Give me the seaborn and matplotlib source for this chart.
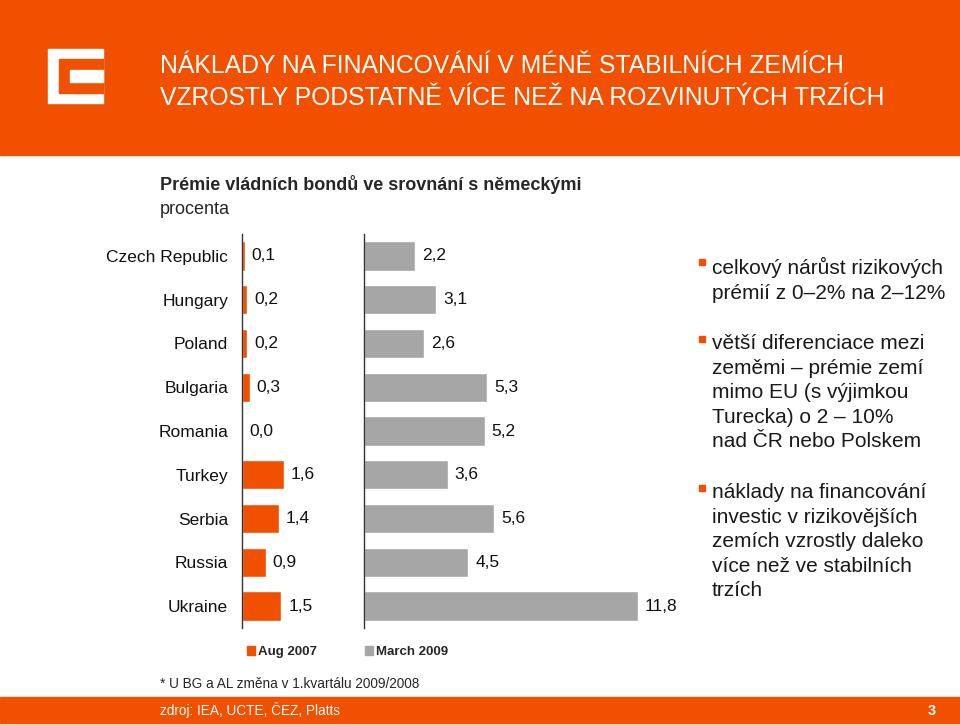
import numpy as np
import matplotlib
matplotlib.use("Agg")
import matplotlib.pyplot as plt
from matplotlib.patches import Rectangle, Patch
import seaborn as sns

# ── Data ─────────────────────────────────────────────────────────────
countries = ["Czech Republic", "Hungary", "Poland", "Bulgaria", "Romania",
             "Turkey", "Serbia", "Russia", "Ukraine"]
aug_2007 = [0.1, 0.2, 0.2, 0.3, 0.0, 1.6, 1.4, 0.9, 1.5]
march_2009 = [2.2, 3.1, 2.6, 5.3, 5.2, 3.6, 5.6, 4.5, 11.8]
series_names = ["Aug 2007", "March 2009"]

title_lines = ["NÁKLADY NA FINANCOVÁNÍ V MÉNĚ STABILNÍCH ZEMÍCH",
               "VZROSTLY PODSTATNĚ VÍCE NEŽ NA ROZVINUTÝCH TRZÍCH"]
bullets = [
    "celkový nárůst rizikových\nprémií z 0–2% na 2–12%",
    "větší diferenciace mezi\nzeměmi – prémie zemí\nmimo EU (s výjimkou\nTurecka) o 2 – 10%\nnad ČR nebo Polskem",
    "náklady na financování\ninvestic v rizikovějších\nzemích vzrostly daleko\nvíce než ve stabilních\ntrzích",
]

ORANGE = "#F05000"
GREY = "#A6A6A6"
W, H = 960, 725

sns.set_style("white")
plt.rcParams["font.family"] = ["Liberation Sans", "DejaVu Sans"]


def fx(px):
    return px / W


def fy(py):
    return 1 - py / H


fig = plt.figure(figsize=(9.6, 7.25), dpi=100)

# ── Header band, logo and bottom band ───────────────────────────────
fig.patches.append(Rectangle((0, fy(155)), 1, 155 / H, transform=fig.transFigure,
                             color=ORANGE, zorder=0))
fig.patches.append(Rectangle((0, fy(723)), 1, 26 / H, transform=fig.transFigure,
                             color=ORANGE, zorder=0))
# CEZ-like logo
fig.patches.append(Rectangle((fx(48), fy(103)), 55 / W, 54 / H,
                             transform=fig.transFigure, color="white", zorder=1))
fig.patches.append(Rectangle((fx(59), fy(93)), 44 / W, 34 / H,
                             transform=fig.transFigure, color=ORANGE, zorder=2))
fig.patches.append(Rectangle((fx(70), fy(82)), 33 / W, 12 / H,
                             transform=fig.transFigure, color="white", zorder=3))

for i, line in enumerate(title_lines):
    fig.text(fx(160), fy(66 + 32 * i), line, color="white", fontsize=17.8,
             va="center", ha="left")

fig.text(fx(160), fy(185), "Prémie vládních bondů ve srovnání s německými",
         fontsize=13, fontweight="bold", va="center")
fig.text(fx(160), fy(209), "procenta", fontsize=13, va="center")

# ── Bar panels ──────────────────────────────────────────────────────
ax_bottom, ax_top = fy(628), fy(234)
ax1 = fig.add_axes([fx(242), ax_bottom, 105 / W, ax_top - ax_bottom])
ax2 = fig.add_axes([fx(364), ax_bottom, 290 / W, ax_top - ax_bottom])

panels = [(ax1, aug_2007, ORANGE, 4.0), (ax2, march_2009, GREY, 12.5)]
for ax, vals, col, xmax in panels:
    sns.barplot(x=vals, y=countries, orient="h", color=col, saturation=1,
                width=0.67, ax=ax)
    ax.set_xlim(0, xmax)
    ax.set_ylim(8.5, -0.5)
    ax.set_xlabel("")
    ax.set_ylabel("")
    ax.set_xticks([])
    ax.set_facecolor("none")
    for side in ["top", "right", "bottom"]:
        ax.spines[side].set_visible(False)
    ax.spines["left"].set_color("#333333")
    ax.spines["left"].set_linewidth(1.0)
    ax.set_yticks(np.arange(-0.5, 9, 1))
    ax.set_yticklabels([])
    ax.tick_params(axis="y", which="major", direction="out", length=5,
                   width=1, color="#333333")
    ax.bar_label(ax.containers[0],
                 labels=[f"{v:.1f}".replace(".", ",") for v in vals],
                 padding=5, fontsize=12.5, color="#111111")

ax1.set_yticks(range(len(countries)), labels=countries, minor=True)
ax1.tick_params(axis="y", which="minor", length=0, pad=10, labelsize=12.5,
                labelcolor="#111111")

# ── Bullets on the right ────────────────────────────────────────────
bullet_lines = [266, 343, 492]
for line_y, txt in zip(bullet_lines, bullets):
    fig.patches.append(Rectangle((fx(699), fy(line_y - 1)), 6 / W, 6 / H,
                                 transform=fig.transFigure, color=ORANGE))
    fig.text(fx(712), fy(line_y - 9), txt, fontsize=15, va="top",
             ha="left", linespacing=1.37, color="#1a1a1a")

# ── Legend and footnotes ────────────────────────────────────────────
handles = [Patch(color=ORANGE, label=series_names[0]),
           Patch(color=GREY, label=series_names[1])]
fig.legend(handles=handles, loc="center left", bbox_to_anchor=(fx(235), fy(652)),
           ncol=2, frameon=False, handlelength=0.6, handleheight=0.6,
           handletextpad=0.25, columnspacing=3.6,
           prop={"weight": "bold", "size": 9.5})

fig.text(fx(160), fy(684), "* U BG a AL změna v 1.kvartálu 2009/2008",
         fontsize=9.8, va="center")
fig.text(fx(160), fy(710), "zdroj: IEA, UCTE, ČEZ, Platts", fontsize=9.8,
         va="center", color="white")
fig.text(fx(932), fy(711), "3", fontsize=10.5, fontweight="bold",
         va="center", ha="center", color="white")

fig.savefig("out.png", dpi=100)
plt.close(fig)
